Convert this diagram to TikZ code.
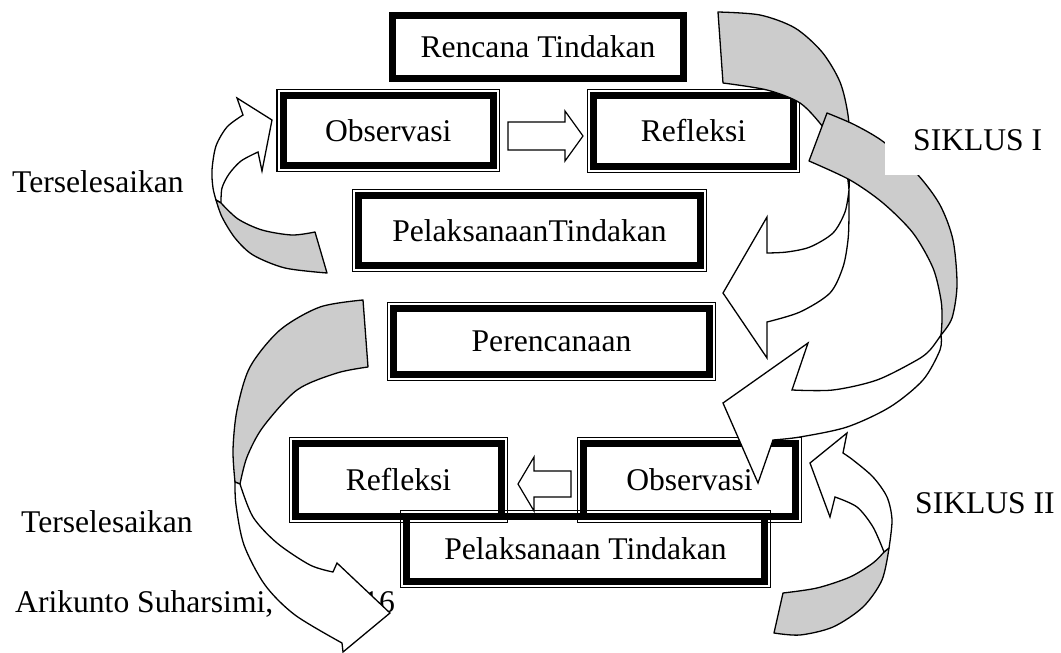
\documentclass[tikz,border=0pt]{standalone}
\usepackage{fontspec}
\setmainfont{Liberation Serif}
\definecolor{backgray}{RGB}{204,204,204}
\tikzset{
  every node/.style={font=\fontsize{31.6}{38}\selectfont},
  lbl/.style={anchor=base west, inner sep=0pt},
  sbox/.style={draw, line width=7pt, inner sep=0pt},
  dboxo/.style={draw, line width=1.1pt, inner sep=0pt},
  dboxi/.style={line width=7pt},
  back/.style={fill=backgray, draw=black, line width=1.3pt, line join=round},
  front/.style={fill=white, draw=black, line width=1.3pt, line join=miter},
  blockarr/.style={fill=white, draw=black, line width=1.2pt},
}
\newcommand{\DBox}[6]{%
  \node[dboxo, minimum width={#4-#2-1}, minimum height={#5-#3-1}] (#1) at ({(#2+#4)/2},{(#3+#5)/2}) {#6};
  \draw[dboxi] ([shift={(7,7)}]#1.north west) rectangle ([shift={(-7,-7)}]#1.south east);
}
\begin{document}
\begin{tikzpicture}[x=1pt,y=-1pt]
\fill[white] (0,0) rectangle (1061,653);
\useasboundingbox (0,0) rectangle (1061,653);

% side labels
\node[lbl] (ters1) at (12,192) {Terselesaikan};
\node[lbl] (ters2) at (21,532) {Terselesaikan};
\node[lbl] (src) at (15,612) {Arikunto Suharsimi,};
\node[lbl, anchor=base east] (year) at (395,612) {2016};

% boxes
\node[sbox, minimum width=291, minimum height=63] (rencana) at (538,47) {Rencana Tindakan};
\DBox{obs1}{276.5}{89}{500}{172}{Observasi}
\DBox{ref1}{587}{89}{800}{173}{Refleksi}
\DBox{pel1}{352}{189}{707}{272}{PelaksanaanTindakan}
\DBox{pere}{387}{302}{716}{381}{Perencanaan}
\DBox{ref2}{289}{437}{508}{523}{Refleksi}
\DBox{obs2}{577}{437}{802}{523}{Observasi}

% block arrows
\draw[blockarr] (508,122) -- (565,122) -- (565,111) -- (583,136) -- (565,161) -- (565,150) -- (508,150) -- cycle;
\draw[blockarr] (571,471) -- (534,471) -- (534,457) -- (518,484) -- (534,511) -- (534,497) -- (571,497) -- cycle;

\DBox{pel2}{400}{510}{771}{588}{Pelaksanaan Tindakan}

% A1: small top-left curved arrow
\filldraw[front] plot[smooth] coordinates {(243,115) (227,127) (216,146) (212,170) (213,188) (216,200)}
  -- plot[smooth] coordinates {(221,203) (222,188) (229,174) (241,161) (258,152)}
  -- (262,171) -- (272,120) -- (237,98) -- cycle;
\filldraw[back] plot[smooth] coordinates {(216,200) (222,217) (235,238) (253,255) (285,268) (327,273)}
  -- plot[smooth] coordinates {(315,232) (292,235) (262,230) (238,219) (221,203)} -- cycle;

% A2: big top-right curved arrow
\filldraw[back] plot[smooth] coordinates {(849,190) (850,150) (848,115) (840,82) (822,52) (795,28) (760,15) (718,12)}
  -- plot[smooth] coordinates {(723,83) (767,90) (800,103) (823,127) (840,153) (847,175) (849,190)} -- cycle;
\filldraw[front] plot[smooth] coordinates {(849,190) (845,212) (833,233) (810,247) (787,252) (767,253)}
  -- (767,217) -- (723,293) -- (767,358)
  -- plot[smooth] coordinates {(767,322) (800,312) (830,293) (843,267) (848,240) (849,215) (849,190)} -- cycle;

% A3: middle curved arrow
\filldraw[back] plot[smooth] coordinates {(941,335) (952,318) (957,285) (953,240) (940,205) (918,175) (885,143) (855,125) (827,113)}
  -- plot[smooth] coordinates {(809,161) (850,180) (883,203) (913,233) (933,268) (941,300) (942,320) (941,335)} -- cycle;
\filldraw[front] plot[smooth] coordinates {(941,335) (930,350) (917,360) (877,380) (833,390) (792,390)}
  -- (808,343) -- (723,403) -- (758,483)
  -- plot[smooth] coordinates {(773,440) (800,437) (847,427) (890,407) (923,380) (940,350) (941,335)} -- cycle;

% A4: bottom-right curved arrow
\filldraw[back] plot[smooth] coordinates {(889,548) (882,580) (863,607) (833,627) (800,635) (774,633)}
  -- plot[smooth] coordinates {(783,593) (817,588) (850,577) (873,563) (884,552)} -- cycle;
\filldraw[front] plot[smooth] coordinates {(889,548) (892,520) (887,497) (873,477) (853,460) (843,453)}
  -- (847,433) -- (810,463) -- (830,517)
  -- plot[smooth] coordinates {(835,497) (857,507) (873,527) (884,552)} -- cycle;

% A5: big bottom-left curved arrow
\filldraw[back] plot[smooth] coordinates {(235,482) (233,450) (237,410) (250,367) (280,330) (320,307) (363,300)}
  -- plot[smooth] coordinates {(368,367) (337,373) (297,390) (263,427) (247,457) (240,484)} -- cycle;
\filldraw[front] plot[smooth] coordinates {(235,482) (236,505) (244,545) (265,585) (295,615) (342,643)}
  -- (343,652) -- (390,613) -- (337,563)
  -- plot[smooth] coordinates {(333,572) (310,565) (277,543) (253,517) (240,484)} -- cycle;

% cycle labels
\fill[white] (885,95) rectangle (1061,175);
\node[lbl] (sik1) at (913,150) {SIKLUS I};
\node[lbl] (sik2) at (915,513) {SIKLUS II};
\end{tikzpicture}
\end{document}
